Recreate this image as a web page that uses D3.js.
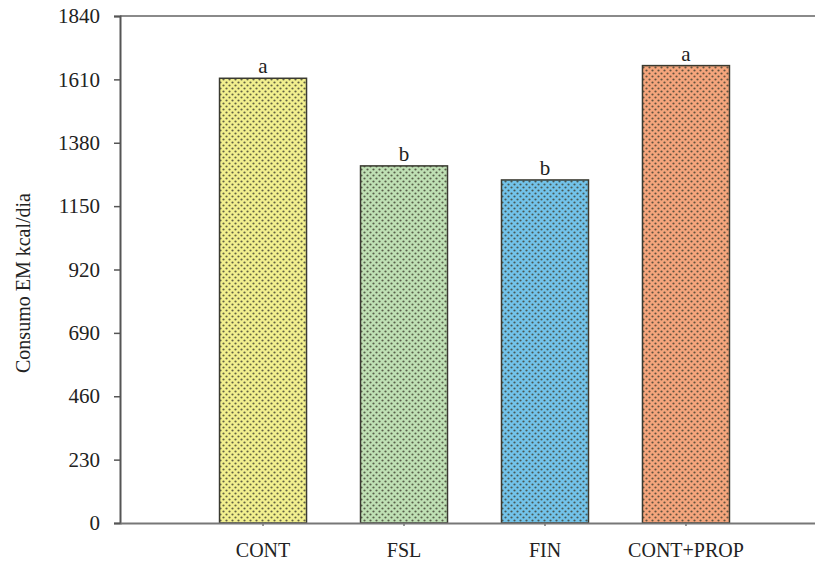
<!DOCTYPE html>
<html>
  <head>
  <title>Consumo EM</title>
  </head>
  <body>
  <style>
    body, html {
      margin: 0;
      padding: 0;
      background: #fff;
    }
    svg text {
      font-family: "Liberation Serif", "Times New Roman", serif;
      fill: #222;
    }
  </style>

  <svg id="svg" width="815" height="563"></svg>

  <script src="https://cdn.jsdelivr.net/npm/d3@7"></script>
  <script>
    const categories = ['CONT', 'FSL', 'FIN', 'CONT+PROP']
    const values = [1614, 1296, 1245, 1660]
    const letters = ['a', 'b', 'b', 'a']
    const barColors = ['#f2f08e', '#bfe0b4', '#72c3ea', '#f5a57c']
    const yTicks = [0, 230, 460, 690, 920, 1150, 1380, 1610, 1840]

    const plotLeft = 120
    const plotTop = 16
    const plotBottom = 523
    const plotRight = 829
    const serif = '"Liberation Serif", "Times New Roman", serif'

    const svg = d3.select('#svg')

    // dotted fills, one pattern per bar colour
    const defs = svg.append('defs')
    barColors.forEach((c, i) => {
      const p = defs.append('pattern')
        .attr('id', 'dots' + i)
        .attr('patternUnits', 'userSpaceOnUse')
        .attr('width', 6)
        .attr('height', 6)
      p.append('rect').attr('width', 6).attr('height', 6).attr('fill', c)
      p.append('circle').attr('cx', 1.5).attr('cy', 1.5).attr('r', 1.1).attr('fill', '#3e3e30').attr('opacity', 0.8)
      p.append('circle').attr('cx', 4.5).attr('cy', 4.5).attr('r', 1.1).attr('fill', '#3e3e30').attr('opacity', 0.8)
    })

    const xScale = d3.scaleBand()
      .domain(categories)
      .range([plotLeft, plotRight])
      .paddingInner(0.383)
      .paddingOuter(0.706)

    const yScale = d3.scaleLinear()
      .domain([0, 1840])
      .range([plotBottom, plotTop])

    // top frame line
    svg.append('line')
      .attr('x1', plotLeft).attr('x2', plotRight)
      .attr('y1', yScale(1840)).attr('y2', yScale(1840))
      .attr('stroke', '#8a8a8a')
      .attr('stroke-width', 2)

    svg.append('g')
      .selectAll('rect')
      .data(categories)
      .join('rect')
      .attr('x', d => xScale(d))
      .attr('y', (d, i) => yScale(values[i]))
      .attr('width', xScale.bandwidth())
      .attr('height', (d, i) => yScale(0) - yScale(values[i]))
      .attr('fill', (d, i) => `url(#dots${i})`)
      .attr('stroke', '#3a3a30')
      .attr('stroke-width', 1.5)

    svg.append('g')
      .selectAll('text')
      .data(categories)
      .join('text')
      .attr('x', d => xScale(d) + xScale.bandwidth() / 2)
      .attr('y', (d, i) => yScale(values[i]) - 5)
      .attr('text-anchor', 'middle')
      .style('font-size', '21px')
      .text((d, i) => letters[i])

    const leftAxis = d3.axisLeft(yScale)
      .tickValues(yTicks)
      .tickFormat(d3.format('d'))
      .tickSize(6)
      .tickPadding(14)
    const gy = svg.append('g')
      .attr('transform', `translate(${plotLeft}, 0)`)
      .call(leftAxis)
      .attr('font-family', serif)
    gy.select('.domain').attr('stroke', '#555').attr('stroke-width', 2)
    gy.selectAll('.tick line').attr('stroke', '#555').attr('stroke-width', 1.5)
    gy.selectAll('.tick text').style('font-size', '21px').attr('fill', '#222')

    const bottomAxis = d3.axisBottom(xScale)
      .tickSize(3)
      .tickSizeOuter(0)
      .tickPadding(17)
    const gx = svg.append('g')
      .attr('transform', `translate(0, ${plotBottom})`)
      .call(bottomAxis)
      .attr('font-family', serif)
    gx.select('.domain').attr('stroke', '#777').attr('stroke-width', 2)
    gx.selectAll('.tick line').attr('stroke', '#777').attr('stroke-width', 1.5)
    gx.selectAll('.tick text').style('font-size', '20px').attr('fill', '#222')

    svg.append('text')
      .attr('transform', `translate(30, 283) rotate(-90)`)
      .attr('text-anchor', 'middle')
      .style('font-size', '20px')
      .text('Consumo EM kcal/dia')
  </script>
  </body>
</html>
